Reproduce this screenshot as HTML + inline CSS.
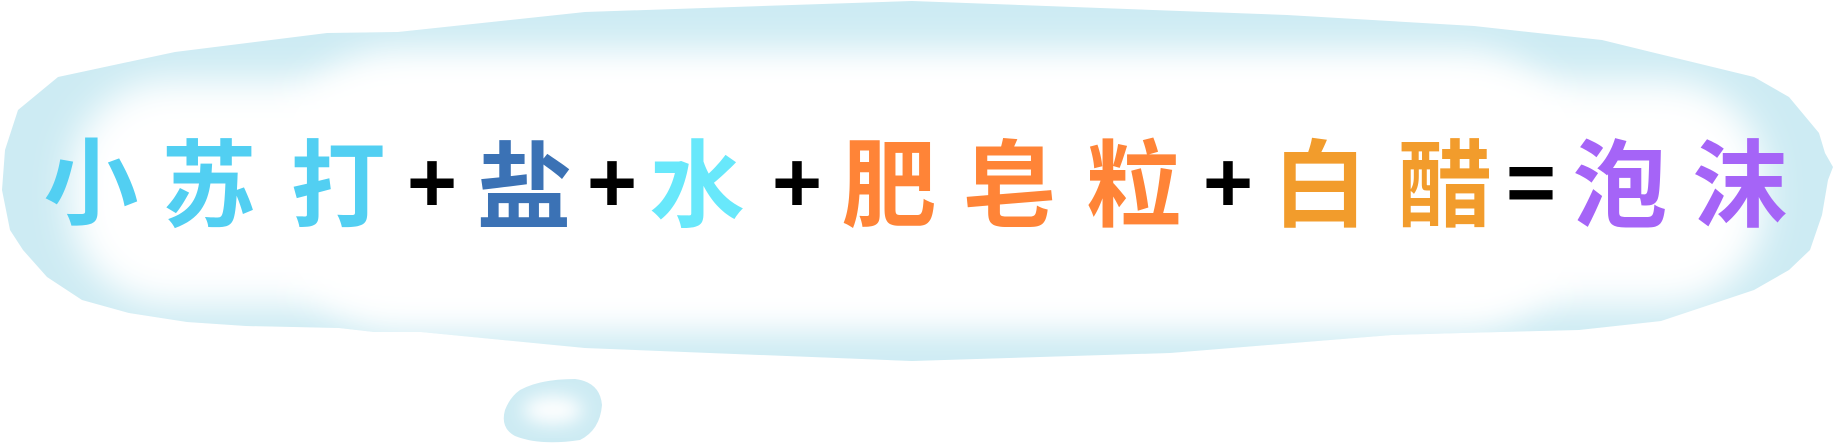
<!DOCTYPE html>
<html><head><meta charset="utf-8"><style>
html,body{margin:0;padding:0;background:#fff;}
svg{display:block;}
.ch{font-family:"Liberation Sans","Noto Sans CJK SC",sans-serif;font-weight:bold;font-size:95px;text-anchor:middle;}
.op{font-family:"Liberation Sans",sans-serif;font-weight:bold;font-size:86px;text-anchor:middle;fill:#000;}
</style></head><body>
<svg width="1834" height="443" viewBox="0 0 1834 443">
<defs>
<filter id="blur" x="-20%" y="-50%" width="140%" height="200%"><feGaussianBlur stdDeviation="18"/></filter>
<filter id="blur2" x="-50%" y="-50%" width="200%" height="200%"><feGaussianBlur stdDeviation="9"/></filter>
<clipPath id="bc"><path id="bp" d="M5,150 L18,110 L58,77 L175,52 L327,33 L398,32 L585,12 L912,1 L1287,15 L1474,26 L1602,40 L1684,60 L1754,77 L1789,97 L1819,133 L1825,153 L1833,167 L1828,180 L1822,215 L1810,250 L1789,270 L1754,290 L1661,321 L1579,330 L1462,333 L1392,335 L1170,353 L912,361 L585,348 L421,332 L374,332 L339,328 L246,326 L187,322 L129,313 L82,300 L47,277 L23,250 L10,230 L2,190 Z"/></clipPath>
<clipPath id="sc"><path d="M520,390 Q540,379 575,379 Q600,382 602,405 Q600,430 580,440 Q540,446 515,436 Q500,428 505,410 Q510,397 520,390 Z"/></clipPath>
</defs>
<g>
<g clip-path="url(#bc)">
<rect x="0" y="0" width="1834" height="443" fill="#cdebf3"/>
<rect x="70" y="80" width="1695" height="225" rx="100" fill="#fff" filter="url(#blur)"/>
<rect x="280" y="50" width="1300" height="280" rx="120" fill="#fff" filter="url(#blur)"/>
</g>
</g>
<g clip-path="url(#sc)">
<rect x="495" y="370" width="115" height="80" fill="#cdebf3"/>
<ellipse cx="553" cy="410" rx="30" ry="14" fill="#fff" filter="url(#blur2)"/>
</g>
<g>
<text class="ch" x="91" y="217" fill="#52cff2">小</text>
<text class="ch" x="209" y="219" fill="#52cff2">苏</text>
<text class="ch" x="338" y="219" fill="#52cff2">打</text>
<text class="op" x="432" y="212">+</text>
<text class="ch" x="524" y="221" fill="#3b72b5">盐</text>
<text class="op" x="612" y="212">+</text>
<text class="ch" x="697" y="219" fill="#68e8fb">水</text>
<text class="op" x="797" y="212">+</text>
<text class="ch" x="889" y="219" fill="#ff8437">肥</text>
<text class="ch" x="1009" y="219" fill="#ff8437">皂</text>
<text class="ch" x="1134" y="219" fill="#ff8437">粒</text>
<text class="op" x="1228" y="212">+</text>
<text class="ch" x="1320" y="219" fill="#f29c2c">白</text>
<text class="ch" x="1445" y="219" fill="#f29c2c">醋</text>
<text class="op" x="1531" y="212">=</text>
<text class="ch" x="1620" y="219" fill="#a564f7">泡</text>
<text class="ch" x="1740" y="219" fill="#a564f7">沫</text>
</g>
</svg>
</body></html>
